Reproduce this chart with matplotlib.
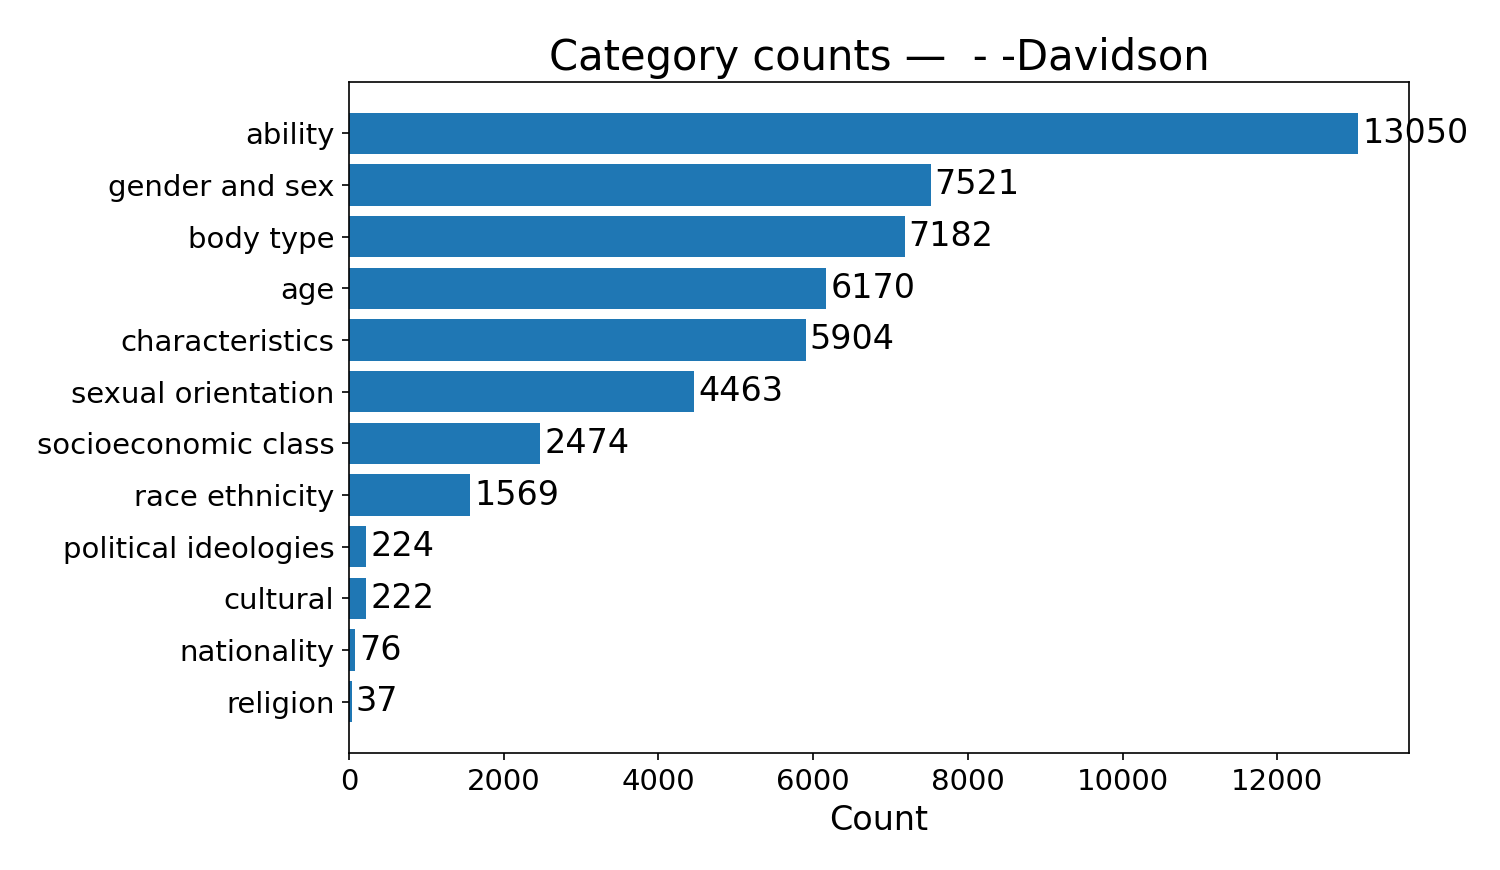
import matplotlib
matplotlib.use('Agg')
import matplotlib.pyplot as plt

# category counts, top to bottom as shown
categories = ['ability', 'gender and sex', 'body type', 'age', 'characteristics',
              'sexual orientation', 'socioeconomic class', 'race ethnicity',
              'political ideologies', 'cultural', 'nationality', 'religion']
counts = [13050, 7521, 7182, 6170, 5904, 4463, 2474, 1569, 224, 222, 76, 37]

fig, ax = plt.subplots(figsize=(10, 5.8), dpi=150)

bars = ax.barh(categories, counts, color='#1f77b4')
ax.invert_yaxis()

for bar, c in zip(bars, counts):
    ax.text(bar.get_width() + 50, bar.get_y() + bar.get_height() / 2, str(c),
            va='center', ha='left', fontsize=16)

ax.set_title('Category counts \u2014  - -Davidson', fontsize=20)
ax.set_xlabel('Count', fontsize=16)
ax.tick_params(axis='both', labelsize=14)

plt.subplots_adjust(left=0.2327, right=0.9393, top=0.9057, bottom=0.1345)
plt.savefig('out.png', dpi=150, facecolor='white')
